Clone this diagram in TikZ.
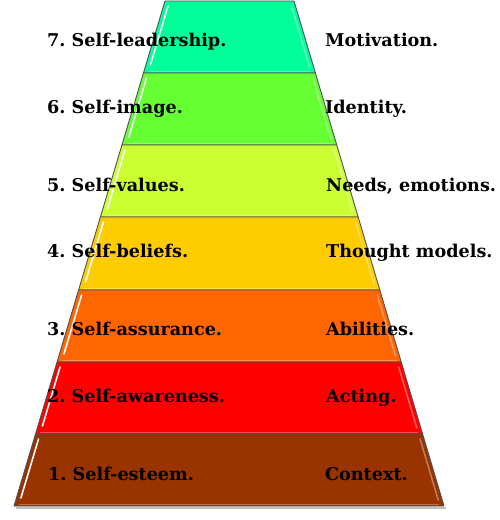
\documentclass[tikz,border=0pt]{standalone}
\usepackage{fontspec}
\setmainfont{DejaVu Serif}
\begin{document}
\frenchspacing
\begin{tikzpicture}[x=1pt,y=-1pt,
  declare function={lx(\t)=165-0.29901*(\t-1); rx(\t)=294+0.29703*(\t-1);},
  lbl/.style={anchor=base west,inner sep=0pt,font=\fontsize{17.6}{20}\selectfont\bfseries,text=black},
  layer/.style={draw=edgegray,line width=0.9pt,line join=round},
  shine/.style={draw=white,line width=1.6pt,line cap=round},
  shineR/.style={draw=white,opacity=0.35,line width=1.6pt,line cap=round}]
\definecolor{edgegray}{RGB}{80,80,90}
\definecolor{c7}{RGB}{0,255,153}
\definecolor{c6}{RGB}{102,255,51}
\definecolor{c5}{RGB}{204,255,51}
\definecolor{c4}{RGB}{255,204,0}
\definecolor{c3}{RGB}{255,102,0}
\definecolor{c2}{RGB}{255,0,0}
\definecolor{c1}{RGB}{153,51,0}
\useasboundingbox[fill=white] (0,0) rectangle (500,520);
% shadow
\fill[black!25] ({lx(506)+2},507) -- ({rx(506)+2},507) -- ({rx(506)+2},509) -- ({lx(506)+2},509) -- cycle;
\foreach \tp/\bt/\col in {1/73/c7,73/145/c6,145/217/c5,217/290/c4,290/362/c3,362/434/c2,434/506/c1}{
  \path[layer,fill=\col] ({lx(\tp)},\tp) -- ({rx(\tp)},\tp) -- ({rx(\bt)},\bt) -- ({lx(\bt)},\bt) -- cycle;
  \path[shine] ({lx(\tp+5)+4.5},\tp+5) -- ({lx(\bt-8)+4.5},\bt-8);
  \path[shineR] ({rx(\tp+5)-4},\tp+5) -- ({rx(\bt-6)-4},\bt-6);
  \path[draw=white,opacity=0.3,line width=1pt] ({lx(\bt-2)+4},\bt-2) -- ({rx(\bt-2)-4},\bt-2);
}
\node[lbl] (l7) at (47,46) {7. Self-leadership.};
\node[lbl] (l6) at (47,113) {6. Self-image.};
\node[lbl] (l5) at (47,191) {5. Self-values.};
\node[lbl] (l4) at (47,257) {4. Self-beliefs.};
\node[lbl] (l3) at (47,335) {3. Self-assurance.};
\node[lbl] (l2) at (47,402) {2. Self-awareness.};
\node[lbl] (l1) at (48,480) {1. Self-esteem.};
\node[lbl] (r7) at (325,46) {Motivation.};
\node[lbl] (r6) at (325,113) {Identity.};
\node[lbl] (r5) at (326,191) {Needs, emotions.};
\node[lbl] (r4) at (326,257) {Thought models.};
\node[lbl] (r3) at (326,335) {Abilities.};
\node[lbl] (r2) at (326,402) {Acting.};
\node[lbl] (r1) at (325,480) {Context.};
\end{tikzpicture}
\end{document}
